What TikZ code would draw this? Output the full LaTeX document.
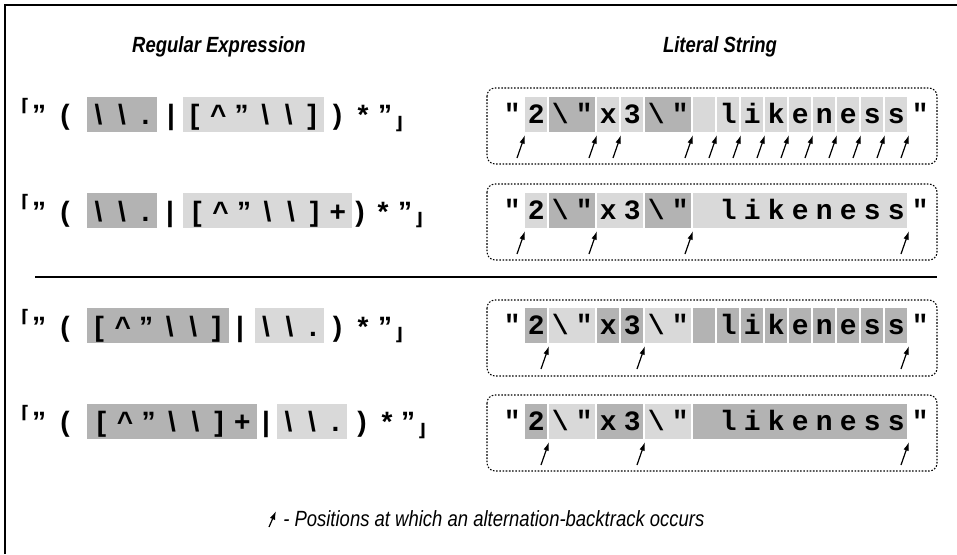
\documentclass[tikz,border=0pt]{standalone}
\usepackage{fontspec}
\setmainfont{Liberation Sans}
\newfontfamily\litfont{Liberation Mono}
\newfontfamily\capfont[FakeStretch=0.84]{Liberation Sans}
\newfontfamily\cornerfont{DejaVu Sans}
\usetikzlibrary{arrows.meta}

\definecolor{darkcell}{RGB}{179,179,179}
\definecolor{lightcell}{RGB}{217,217,217}

% one character per fixed slot
\newcommand\chr[1]{\makebox[18pt]{#1}}
\newcommand\rch[1]{\makebox[17.6pt]{#1}}
\newcommand\likestr{\chr{"}\chr{2}\chr{\textbackslash}\chr{"}\chr{x}\chr{3}\chr{\textbackslash}\chr{"}\chr{}\chr{l}\chr{i}\chr{k}\chr{e}\chr{n}\chr{e}\chr{s}\chr{s}\chr{"}}
\newcommand\altesc{\rch{\textbackslash}\rch{\textbackslash}\rch{.}}
\newcommand\altcls{\rch{[}\rch{\textasciicircum}\rch{"}\rch{\textbackslash}\rch{\textbackslash}\rch{]}}
\newcommand\altclsp{\altcls\rch{+}}

\begin{document}
\begin{tikzpicture}[x=0.75pt,y=0.75pt,yscale=-1,xscale=1,
  lcell/.style={draw opacity=0,fill=lightcell},
  dcell/.style={draw opacity=0,fill=darkcell},
  strbox/.style={dash pattern={on 1.2pt off 1.2pt},line width=0.8pt,rounded corners=6pt},
  ptr/.style={line width=0.9pt,-{Latex[length=6.5pt,width=4.2pt]}},
  rx/.style={anchor=base,inner sep=0pt,font=\bfseries\fontsize{21}{24}\selectfont},
  crn/.style={anchor=base,inner sep=0pt,font=\cornerfont\bfseries\fontsize{13}{15}\selectfont},
  lit/.style={anchor=base west,inner sep=0pt,font=\litfont\bfseries\fontsize{21}{24}\selectfont},
  ttl/.style={anchor=base,inner sep=0pt,font=\capfont\bfseries\itshape\fontsize{16.5}{19}\selectfont}]
\useasboundingbox (0,0) rectangle (957,554);

%Shape: Frame
\draw [line width=1.1] (5,554) -- (5,5) -- (957,5) ;
%Straight Lines
\draw [line width=1.9] (35,277) -- (937,277) ;

% Text Node
\draw (219,52) node [ttl] (ttlre) {Regular Expression};
% Text Node
\draw (720,52) node [ttl] (ttlstr) {Literal String};

%Shape: Rectangle (row 1 alternatives)
\draw [dcell] (87,97) rectangle (157,132) ;
\draw [lcell] (183,97) rectangle (324,132) ;
% Text Node
\draw (25,111) node [crn] (r1o) {⌈};
\draw (39,124.5) node [rx] (r1q) {"};
\draw (65,124.5) node [rx] (r1p) {(};
\draw (122,124.5) node [rx] (r1a) {\altesc};
\draw (171,124.5) node [rx] (r1v) {|};
\draw (253.5,124.5) node [rx] (r1b) {\altcls};
\draw (337.5,124.5) node [rx] (r1c) {)};
\draw (363,124.5) node [rx] (r1s) {*};
\draw (385,124.5) node [rx] (r1e) {"};
\draw (399,129) node [crn] (r1z) {⌋};

%Shape: Rectangle (row 2 alternatives)
\draw [dcell] (87,193) rectangle (157,228) ;
\draw [lcell] (183,193) rectangle (352,228) ;
% Text Node
\draw (25,207.5) node [crn] (r2o) {⌈};
\draw (39,221) node [rx] (r2q) {"};
\draw (65,221) node [rx] (r2p) {(};
\draw (122,221) node [rx] (r2a) {\altesc};
\draw (170,221) node [rx] (r2v) {|};
\draw (267.5,221) node [rx] (r2b) {\altclsp};
\draw (360,221) node [rx] (r2c) {)};
\draw (383,221) node [rx] (r2s) {*};
\draw (405,221) node [rx] (r2e) {"};
\draw (419,225.5) node [crn] (r2z) {⌋};

%Shape: Rectangle (row 3 alternatives)
\draw [dcell] (87,308) rectangle (229,343) ;
\draw [lcell] (255,308) rectangle (324,343) ;
% Text Node
\draw (25,322.5) node [crn] (r3o) {⌈};
\draw (39,336) node [rx] (r3q) {"};
\draw (65,336) node [rx] (r3p) {(};
\draw (158,336) node [rx] (r3a) {\altcls};
\draw (240,336) node [rx] (r3v) {|};
\draw (289.5,336) node [rx] (r3b) {\altesc};
\draw (337.5,336) node [rx] (r3c) {)};
\draw (363,336) node [rx] (r3s) {*};
\draw (385,336) node [rx] (r3e) {"};
\draw (399,340.5) node [crn] (r3z) {⌋};

%Shape: Rectangle (row 4 alternatives)
\draw [dcell] (87,404) rectangle (257,439) ;
\draw [lcell] (277,404) rectangle (347,439) ;
% Text Node
\draw (25,418) node [crn] (r4o) {⌈};
\draw (39,431.5) node [rx] (r4q) {"};
\draw (65,431.5) node [rx] (r4p) {(};
\draw (172,431.5) node [rx] (r4a) {\altclsp};
\draw (266,431.5) node [rx] (r4v) {|};
\draw (312,431.5) node [rx] (r4b) {\altesc};
\draw (362,431.5) node [rx] (r4c) {)};
\draw (387,431.5) node [rx] (r4s) {*};
\draw (408,431.5) node [rx] (r4e) {"};
\draw (422,436) node [crn] (r4z) {⌋};

%Rounded Rect (string 1)
\draw [strbox] (487,88) rectangle (937,164) ;
\draw [lcell] (525,97) rectangle (547,132) ;
\draw [dcell] (549,97) rectangle (595,132) ;
\draw [lcell] (597,97) rectangle (619,132) ;
\draw [lcell] (621,97) rectangle (643,132) ;
\draw [dcell] (645,97) rectangle (691,132) ;
\draw [lcell] (693,97) rectangle (715,132) ;
\draw [lcell] (717,97) rectangle (739,132) ;
\draw [lcell] (741,97) rectangle (763,132) ;
\draw [lcell] (765,97) rectangle (787,132) ;
\draw [lcell] (789,97) rectangle (811,132) ;
\draw [lcell] (813,97) rectangle (835,132) ;
\draw [lcell] (837,97) rectangle (859,132) ;
\draw [lcell] (861,97) rectangle (883,132) ;
\draw [lcell] (885,97) rectangle (907,132) ;
% Text Node
\draw (500,123) node [lit] (s1) {\likestr};

%Rounded Rect (string 2)
\draw [strbox] (487,184) rectangle (937,260) ;
\draw [lcell] (525,193) rectangle (547,228) ;
\draw [dcell] (549,193) rectangle (595,228) ;
\draw [lcell] (597,193) rectangle (643,228) ;
\draw [dcell] (645,193) rectangle (691,228) ;
\draw [lcell] (693,193) rectangle (907,228) ;
% Text Node
\draw (500,219) node [lit] (s2) {\likestr};

%Rounded Rect (string 3)
\draw [strbox] (487,300) rectangle (937,376) ;
\draw [dcell] (525,308) rectangle (547,343) ;
\draw [lcell] (549,308) rectangle (595,343) ;
\draw [dcell] (597,308) rectangle (619,343) ;
\draw [dcell] (621,308) rectangle (643,343) ;
\draw [lcell] (645,308) rectangle (691,343) ;
\draw [dcell] (693,308) rectangle (715,343) ;
\draw [dcell] (717,308) rectangle (739,343) ;
\draw [dcell] (741,308) rectangle (763,343) ;
\draw [dcell] (765,308) rectangle (787,343) ;
\draw [dcell] (789,308) rectangle (811,343) ;
\draw [dcell] (813,308) rectangle (835,343) ;
\draw [dcell] (837,308) rectangle (859,343) ;
\draw [dcell] (861,308) rectangle (883,343) ;
\draw [dcell] (885,308) rectangle (907,343) ;
% Text Node
\draw (500,334) node [lit] (s3) {\likestr};

%Rounded Rect (string 4)
\draw [strbox] (487,395) rectangle (937,471) ;
\draw [dcell] (525,404) rectangle (547,439) ;
\draw [lcell] (549,404) rectangle (595,439) ;
\draw [dcell] (597,404) rectangle (643,439) ;
\draw [lcell] (645,404) rectangle (691,439) ;
\draw [dcell] (693,404) rectangle (907,439) ;
% Text Node
\draw (500,430) node [lit] (s4) {\likestr};

%Straight Lines (backtrack points, string 1)
\coordinate (s1t1) at (517,158); \coordinate (s1h1) at (525,135);
\coordinate (s1t2) at (589,158); \coordinate (s1h2) at (597,135);
\coordinate (s1t3) at (613,158); \coordinate (s1h3) at (621,135);
\coordinate (s1t4) at (685,158); \coordinate (s1h4) at (693,135);
\coordinate (s1t5) at (709,158); \coordinate (s1h5) at (717,135);
\coordinate (s1t6) at (733,158); \coordinate (s1h6) at (741,135);
\coordinate (s1t7) at (757,158); \coordinate (s1h7) at (765,135);
\coordinate (s1t8) at (781,158); \coordinate (s1h8) at (789,135);
\coordinate (s1t9) at (805,158); \coordinate (s1h9) at (813,135);
\coordinate (s1t10) at (829,158); \coordinate (s1h10) at (837,135);
\coordinate (s1t11) at (853,158); \coordinate (s1h11) at (861,135);
\coordinate (s1t12) at (877,158); \coordinate (s1h12) at (885,135);
\coordinate (s1t13) at (901,158); \coordinate (s1h13) at (909,135);
\draw [ptr] (s1t1) -- (s1h1) ;
\draw [ptr] (s1t2) -- (s1h2) ;
\draw [ptr] (s1t3) -- (s1h3) ;
\draw [ptr] (s1t4) -- (s1h4) ;
\draw [ptr] (s1t5) -- (s1h5) ;
\draw [ptr] (s1t6) -- (s1h6) ;
\draw [ptr] (s1t7) -- (s1h7) ;
\draw [ptr] (s1t8) -- (s1h8) ;
\draw [ptr] (s1t9) -- (s1h9) ;
\draw [ptr] (s1t10) -- (s1h10) ;
\draw [ptr] (s1t11) -- (s1h11) ;
\draw [ptr] (s1t12) -- (s1h12) ;
\draw [ptr] (s1t13) -- (s1h13) ;

%Straight Lines (backtrack points, string 2)
\coordinate (s2t1) at (517,254); \coordinate (s2h1) at (525,231);
\coordinate (s2t2) at (589,254); \coordinate (s2h2) at (597,231);
\coordinate (s2t3) at (685,254); \coordinate (s2h3) at (693,231);
\coordinate (s2t4) at (901,254); \coordinate (s2h4) at (909,231);
\draw [ptr] (s2t1) -- (s2h1) ;
\draw [ptr] (s2t2) -- (s2h2) ;
\draw [ptr] (s2t3) -- (s2h3) ;
\draw [ptr] (s2t4) -- (s2h4) ;

%Straight Lines (backtrack points, string 3)
\coordinate (s3t1) at (541,369); \coordinate (s3h1) at (549,346);
\coordinate (s3t2) at (637,369); \coordinate (s3h2) at (645,346);
\coordinate (s3t3) at (901,369); \coordinate (s3h3) at (909,346);
\draw [ptr] (s3t1) -- (s3h1) ;
\draw [ptr] (s3t2) -- (s3h2) ;
\draw [ptr] (s3t3) -- (s3h3) ;

%Straight Lines (backtrack points, string 4)
\coordinate (s4t1) at (541,465); \coordinate (s4h1) at (549,442);
\coordinate (s4t2) at (637,465); \coordinate (s4h2) at (645,442);
\coordinate (s4t3) at (901,465); \coordinate (s4h3) at (909,442);
\draw [ptr] (s4t1) -- (s4h1) ;
\draw [ptr] (s4t2) -- (s4h2) ;
\draw [ptr] (s4t3) -- (s4h3) ;

%Legend
\coordinate (keyt) at (269,527); \coordinate (keyh) at (276,511);
\draw [ptr] (keyt) -- (keyh) ;
% Text Node
\draw (283,526) node [anchor=base west,inner sep=0pt,font=\capfont\itshape\fontsize{16.5}{19}\selectfont] (key) {- Positions at which an alternation-backtrack occurs};

\end{tikzpicture}
\end{document}
